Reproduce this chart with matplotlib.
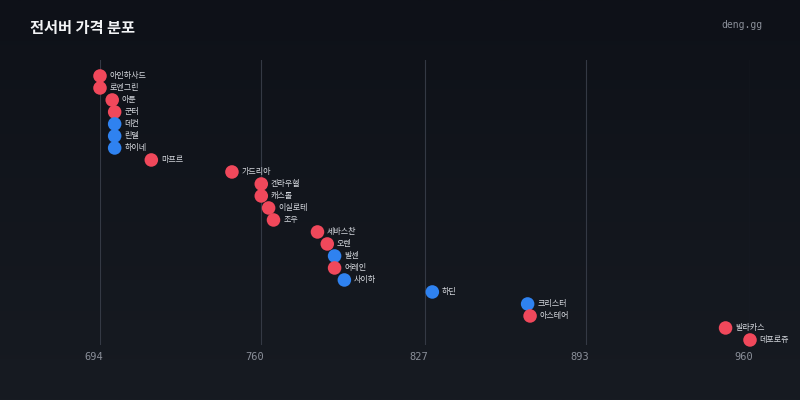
import numpy as np
import matplotlib
matplotlib.use("Agg")
import matplotlib.pyplot as plt
import matplotlib.transforms as mtransforms

plt.rcParams['font.family'] = ['Noto Sans CJK KR', 'DejaVu Sans']

# server names, top to bottom, with price and faction colour
servers = ['아인하사드', '로엔그린', '아툰', '군터', '데컨', '린델', '하이네', '마프르',
           '가드리아', '켄라우헬', '캐스톨', '이실로테', '조우', '세바스찬', '오렌',
           '발센', '어레인', '사이하', '하딘', '크리스터', '아스테어', '발라카스', '데포로쥬']
prices = [694, 694, 699, 700, 700, 700, 700, 715,
          748, 760, 760, 763, 765, 783, 787,
          790, 790, 794, 830, 869, 870, 950, 960]
groups = ['r', 'r', 'r', 'r', 'b', 'b', 'b', 'r',
          'r', 'r', 'r', 'r', 'r', 'r', 'r',
          'b', 'r', 'b', 'b', 'b', 'r', 'r', 'r']
ticks = [694, 760, 827, 893, 960]

colors = {'r': '#f0485b', 'b': '#2f82f0'}

fig = plt.figure(figsize=(8, 4), dpi=100)

# background gradient
bg = fig.add_axes([0, 0, 1, 1], zorder=-10)
grad = np.linspace(0, 1, 256).reshape(-1, 1)
cmap = matplotlib.colors.LinearSegmentedColormap.from_list('bg', ['#0e1118', '#171b22'])
bg.imshow(grad, aspect='auto', cmap=cmap, extent=[0, 1, 0, 1])
bg.axis('off')

ax = fig.add_axes([100 / 800, 1 - 345 / 400, 650 / 800, 285 / 400])
ax.set_facecolor('none')
ax.set_xlim(694, 960)
ypos = np.arange(len(servers))
ax.set_ylim(len(servers) - 1 + 0.42, -1.33)

for t in ticks:
    ax.axvline(t, color='#343944', lw=0.8, zorder=1)

ax.scatter(prices, ypos, s=95, c=[colors[g] for g in groups], zorder=3,
           linewidths=0, clip_on=False)

offset = mtransforms.offset_copy(ax.transData, fig=fig, x=7, y=0, units='points')
for name, p, y in zip(servers, prices, ypos):
    ax.text(p, y, name, transform=offset, color='#d4d7dd', fontsize=5.8,
            va='center', ha='left')

# x tick labels, drawn a little left of each gridline
ax.set_xticks([])
ax.set_yticks([])
tick_tr = mtransforms.offset_copy(ax.get_xaxis_transform(), fig=fig,
                                  x=-6.5, y=-12, units='dots')
for t in ticks:
    ax.text(t, 0, str(t), transform=tick_tr, family='DejaVu Sans Mono',
            color='#8a8f99', fontsize=7.5, ha='center', va='center', clip_on=False)
for s in ax.spines.values():
    s.set_visible(False)

fig.text(30 / 800, 1 - 28 / 400, '전서버 가격 분포', color='#f2f3f5', fontsize=11,
         fontweight='bold', va='center', ha='left')
fig.text(762 / 800, 1 - 25 / 400, 'deng.gg', color='#8a8f99', fontsize=7,
         family='DejaVu Sans Mono', va='center', ha='right')

fig.savefig('out.png', dpi=100)
